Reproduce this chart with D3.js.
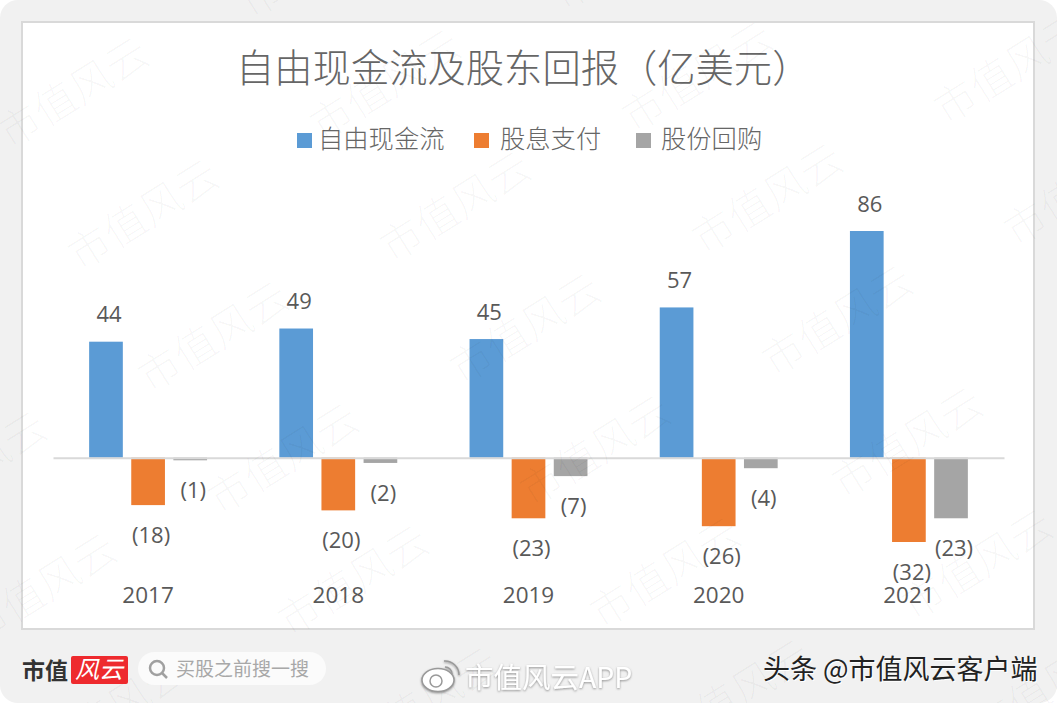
<!DOCTYPE html>
<html>
<head>
<meta charset="utf-8">
<script src="https://cdn.jsdelivr.net/npm/d3@7"></script>
<style>
  html, body { margin: 0; padding: 0; background: #fff; }
  svg { display: block; }
  text { font-family: "Noto Sans CJK SC", "Liberation Sans", sans-serif; }
  .num { font-family: "Open Sans", "Liberation Sans", sans-serif; }
</style>
</head>
<body>
<script>
// Chart data
var years = ["2017", "2018", "2019", "2020", "2021"];
var seriesNames = ["自由现金流", "股息支付", "股份回购"];
var freeCashFlow = [44, 49, 45, 57, 86];
var dividends = [-18, -20, -23, -26, -32];
var buybacks = [-1, -2, -7, -4, -23];
var seriesColors = ["#5b9bd5", "#ed7d31", "#a5a5a5"];

var width = 1057;
var height = 703;

var svg = d3.select("body").append("svg")
  .attr("width", width)
  .attr("height", height);

// Soft shadow for the footer credit
var defs = svg.append("defs");
var blur = defs.append("filter").attr("id", "soft")
  .attr("x", "-10%").attr("y", "-30%")
  .attr("width", "120%").attr("height", "160%");
blur.append("feDropShadow")
  .attr("dx", 0).attr("dy", 1)
  .attr("stdDeviation", 1.2)
  .attr("flood-color", "#777")
  .attr("flood-opacity", 0.8);

// Grey frame and white chart panel
svg.append("rect")
  .attr("width", width).attr("height", height)
  .attr("rx", 18)
  .attr("fill", "#f1f1f1");

svg.append("rect")
  .attr("x", 22).attr("y", 22)
  .attr("width", 1012).attr("height", 607)
  .attr("fill", "#fff")
  .attr("stroke", "#d9d9d9")
  .attr("stroke-width", 2);

// Scales
var x0 = d3.scaleBand()
  .domain(years)
  .range([53, 1004])
  .paddingInner(0.38)
  .paddingOuter(0.19);

var x1 = d3.scaleBand()
  .domain(seriesNames)
  .range([0, x0.bandwidth()])
  .paddingInner(0.2);

var y = d3.scaleLinear()
  .domain([-32, 86])
  .range([542, 231]);

var allSeries = [freeCashFlow, dividends, buybacks];

// Bars
var groups = svg.selectAll(".group")
  .data(years)
  .enter()
  .append("g")
  .attr("class", "group")
  .attr("transform", function(d) { return "translate(" + x0(d) + ",0)"; });

groups.each(function(year, i) {
  var g = d3.select(this);
  var rows = seriesNames.map(function(name, s) {
    return { name: name, value: allSeries[s][i], color: seriesColors[s] };
  });

  g.selectAll("rect")
    .data(rows)
    .enter()
    .append("rect")
    .attr("x", function(d) { return x1(d.name); })
    .attr("y", function(d) { return d.value > 0 ? y(d.value) : y(0); })
    .attr("width", x1.bandwidth())
    .attr("height", function(d) { return Math.abs(y(d.value) - y(0)); })
    .attr("fill", function(d) { return d.color; });

  g.selectAll(".label")
    .data(rows)
    .enter()
    .append("text")
    .attr("class", "label num")
    .attr("x", function(d) { return x1(d.name) + x1.bandwidth() / 2 + 3; })
    .attr("y", function(d) { return d.value > 0 ? y(d.value) - 27 : y(d.value) + 30; })
    .attr("dy", ".35em")
    .attr("text-anchor", "middle")
    .attr("font-size", 22)
    .attr("fill", "#595959")
    .text(function(d) { return d.value < 0 ? "(" + Math.abs(d.value) + ")" : d.value; });
});

// Category axis sits on the zero line, labels pushed below the bars
var axis = svg.append("g")
  .attr("transform", "translate(0," + y(0) + ")")
  .call(d3.axisBottom(x0).tickSize(0).tickPadding(129));

axis.select(".domain")
  .attr("stroke", "#d9d9d9")
  .attr("stroke-width", 2);

axis.selectAll("text")
  .attr("class", "num")
  .attr("font-size", 22.5)
  .attr("fill", "#595959");

// Title
svg.append("text")
  .attr("x", 236).attr("y", 82)
  .attr("font-size", 38.3)
  .attr("font-weight", 300)
  .attr("fill", "#666")
  .text("自由现金流及股东回报（亿美元）");

// Legend
var legendX = [297, 474, 636];
var legendTextX = [21, 26, 25];
var legend = svg.selectAll(".legend")
  .data(seriesNames)
  .enter()
  .append("g")
  .attr("class", "legend")
  .attr("transform", function(d, i) { return "translate(" + legendX[i] + ",133)"; });

legend.append("rect")
  .attr("width", 15).attr("height", 15)
  .attr("fill", function(d, i) { return seriesColors[i]; });

legend.append("text")
  .attr("x", function(d, i) { return legendTextX[i]; })
  .attr("y", 15)
  .attr("font-size", 25.3)
  .attr("font-weight", 300)
  .attr("fill", "#666")
  .text(function(d) { return d; });

// Diagonal site watermark, laid over everything
var marks = svg.append("g").attr("pointer-events", "none");
for (var row = -2; row < 6; row++) {
  for (var col = -2; col < 6; col++) {
    var mx = 10 + col * 312 + row * 70;
    var my = 150 - col * 8 + row * 122;
    if (mx < -150 || mx > width || my < 0 || my > height + 100) continue;
    marks.append("text")
      .attr("transform", "translate(" + mx + "," + my + ") rotate(-32)")
      .attr("font-size", 42)
      .attr("font-weight", 300)
      .attr("fill", "#000")
      .attr("fill-opacity", 0.03)
      .text("市值风云");
  }
}

// Footer: logo and search pill
svg.append("text")
  .attr("x", 22).attr("y", 679)
  .attr("font-size", 23)
  .attr("font-weight", 700)
  .attr("fill", "#333")
  .text("市值");

svg.append("rect")
  .attr("x", 71).attr("y", 656)
  .attr("width", 57).attr("height", 28)
  .attr("rx", 2)
  .attr("fill", "#ee2a2e");

svg.append("text")
  .attr("x", 99).attr("y", 678)
  .attr("text-anchor", "middle")
  .attr("font-size", 24)
  .attr("font-style", "italic")
  .attr("fill", "#fff")
  .text("风云");

svg.append("rect")
  .attr("x", 138).attr("y", 652)
  .attr("width", 188).attr("height", 33)
  .attr("rx", 16.5)
  .attr("fill", "#fbfbfb");

svg.append("circle")
  .attr("cx", 157).attr("cy", 668)
  .attr("r", 7)
  .attr("fill", "none")
  .attr("stroke", "#a0a0a0")
  .attr("stroke-width", 2.5);

svg.append("line")
  .attr("x1", 162).attr("y1", 673)
  .attr("x2", 167).attr("y2", 678)
  .attr("stroke", "#a0a0a0")
  .attr("stroke-width", 2.5);

svg.append("text")
  .attr("x", 176).attr("y", 676)
  .attr("font-size", 19)
  .attr("fill", "#a8a8a8")
  .text("买股之前搜一搜");

// Weibo mark
var weibo = svg.append("g")
  .attr("fill", "none")
  .attr("stroke", "#999")
  .attr("stroke-width", 1.5)
  .attr("filter", "url(#soft)");

weibo.append("ellipse")
  .attr("cx", 438).attr("cy", 680)
  .attr("rx", 16).attr("ry", 11.5)
  .attr("fill", "#fff");

weibo.append("circle")
  .attr("cx", 436).attr("cy", 681)
  .attr("r", 6)
  .attr("fill", "#fff");

weibo.append("path")
  .attr("d", "M444 661 A 14 14 0 0 1 459 675");

weibo.append("path")
  .attr("d", "M445 667 A 7 7 0 0 1 452 674");

svg.append("text")
  .attr("x", 465).attr("y", 688)
  .attr("font-size", 28.5)
  .attr("fill", "#fff")
  .attr("filter", "url(#soft)")
  .text("市值风云APP");

// Toutiao credit, white halo under dark text
var creditText = "头条 @市值风云客户端";
svg.append("text")
  .attr("x", 764).attr("y", 680)
  .attr("font-size", 27)
  .attr("fill", "#fff")
  .text(creditText);

svg.append("text")
  .attr("x", 763).attr("y", 679)
  .attr("font-size", 27)
  .attr("fill", "#222")
  .text(creditText);
</script>
</body>
</html>
